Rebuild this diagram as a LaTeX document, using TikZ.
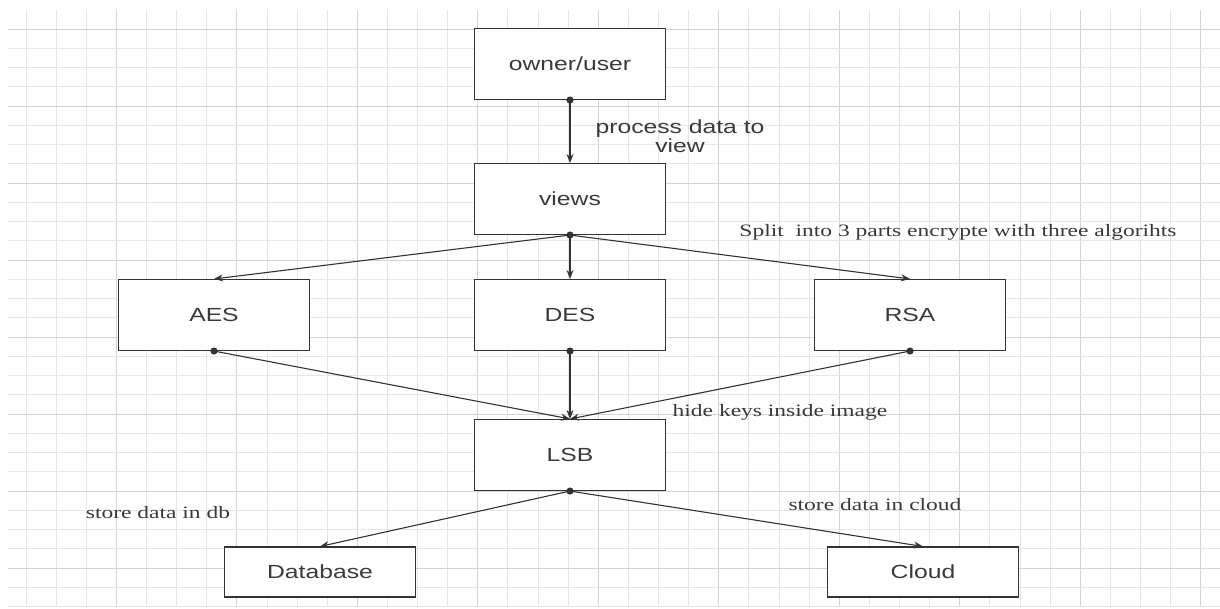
\documentclass[tikz,border=0pt]{standalone}
\usepackage{fontspec}
\setmainfont{Liberation Serif}
\setsansfont{Liberation Sans}
\usetikzlibrary{arrows.meta}
\definecolor{ink}{HTML}{333333}
\definecolor{txt}{HTML}{3A3A3A}
\definecolor{gminor}{HTML}{E6E6E6}
\definecolor{gmajor}{HTML}{D4D4D4}
\newcommand{\sanslab}[1]{\scalebox{1.3}[1]{\fontsize{19}{22}\sffamily #1}}
\newcommand{\seriflab}[1]{\scalebox{1.35}[1]{\fontsize{17.4}{20}\selectfont #1}}
\begin{document}
\begin{tikzpicture}[x=1pt,y=-1pt,
  box/.style={draw=ink,line width=1.1pt,fill=white,minimum width=191pt,minimum height=71pt,inner sep=0pt,text=txt},
  sbox/.style={box,minimum height=50pt},
  conn/.style={draw=ink,line width=1.1pt,-{Stealth[length=9pt,width=7pt]}},
  lab/.style={text=txt,inner sep=0pt,align=center}]
\useasboundingbox (0,0) rectangle (1220,608);
\fill[white] (0,0) rectangle (1220,608);
% grid
\begin{scope}
\clip (8,10) rectangle (1220,606);
\foreach \i in {0,...,40} {
  \pgfmathsetmacro{\xx}{26+30.12*\i}
  \pgfmathtruncatemacro{\mj}{mod(\i,4)==3 ? 1 : 0}
  \ifnum\mj=1 \draw[gmajor,line width=1pt] (\xx,0) -- (\xx,608);
  \else \draw[gminor,line width=0.9pt] (\xx,0) -- (\xx,608); \fi
}
\foreach \j in {0,...,31} {
  \pgfmathsetmacro{\yy}{9.75+19.25*\j}
  \pgfmathtruncatemacro{\mj}{mod(\j,4)==1 ? 1 : 0}
  \ifnum\mj=1 \draw[gmajor,line width=1pt] (0,\yy) -- (1220,\yy);
  \else \draw[gminor,line width=0.9pt] (0,\yy) -- (1220,\yy); \fi
}
\end{scope}
% nodes
\node[box] (own) at (570,64) {\sanslab{owner/user}};
\node[box] (views) at (570,199) {\sanslab{views}};
\node[box] (aes) at (214,315) {\sanslab{AES}};
\node[box] (des) at (570,315) {\sanslab{DES}};
\node[box] (rsa) at (910,315) {\sanslab{RSA}};
\node[box] (lsb) at (570,455) {\sanslab{LSB}};
\node[sbox] (db) at (320,572) {\sanslab{Database}};
\node[sbox] (cloud) at (923,572) {\sanslab{Cloud}};
% connectors
\draw[conn] (own.south) -- (views.north);
\draw[conn] (views.south) -- (aes.north);
\draw[conn] (views.south) -- (des.north);
\draw[conn] (views.south) -- (rsa.north);
\draw[conn] (aes.south) -- (lsb.north);
\draw[conn] (des.south) -- (lsb.north);
\draw[conn] (rsa.south) -- (lsb.north);
\draw[conn] (lsb.south) -- (db.north);
\draw[conn] (lsb.south) -- (cloud.north);
\foreach \n in {own,views,aes,des,rsa,lsb} \fill[ink] (\n.south) circle (3.6pt);
% labels
\node[lab,font=\fontsize{19}{19}\selectfont] (l1) at (680,136) {\sanslab{process data to}\\\sanslab{view}};
\node[lab] (l2) at (958,232) {\seriflab{Split\ \ into 3 parts encrypte with three algorihts}};
\node[lab] (l3) at (780,412) {\seriflab{hide keys inside image}};
\node[lab] (l4) at (158,513) {\seriflab{store data in db}};
\node[lab] (l5) at (875,505) {\seriflab{store data in cloud}};
\end{tikzpicture}
\end{document}
